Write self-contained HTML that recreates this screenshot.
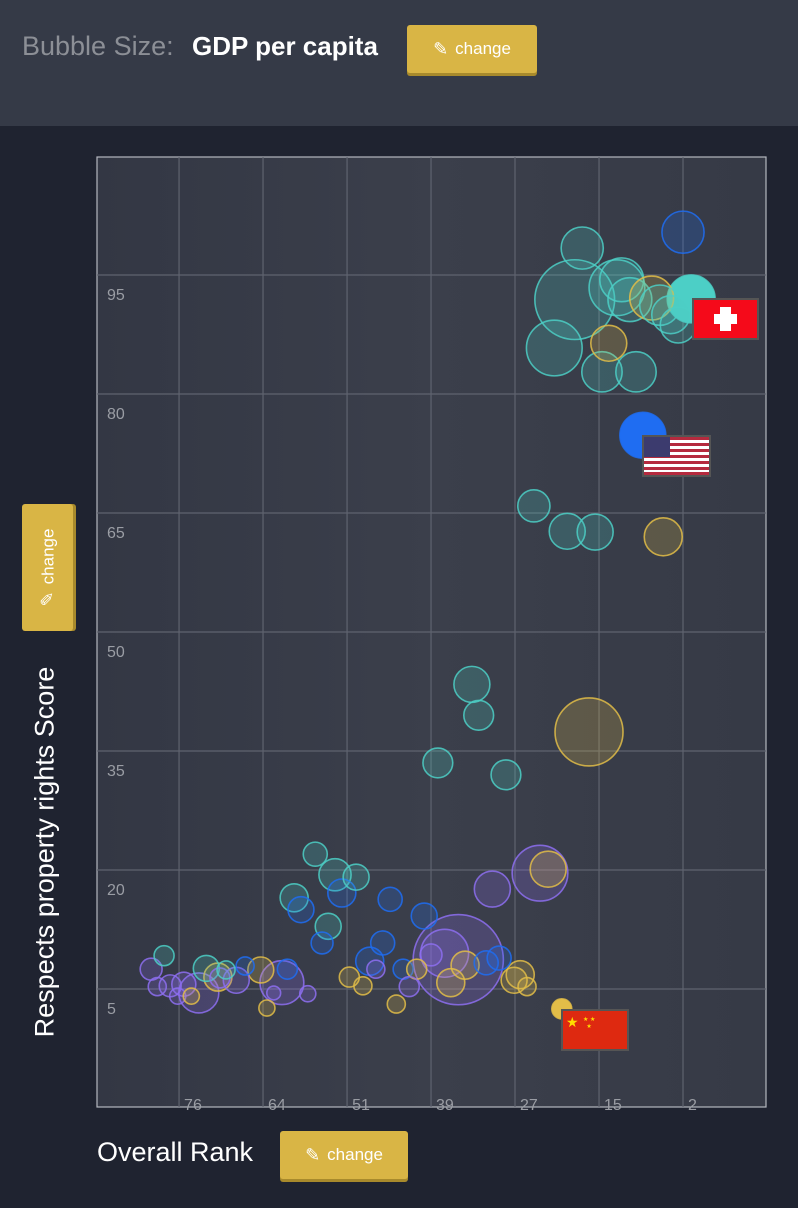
<!DOCTYPE html>
<html><head><meta charset="utf-8">
<style>
body{margin:0;width:798px;height:1208px;background:#1f2330;font-family:"Liberation Sans",sans-serif;position:relative;overflow:hidden}
.hdr{position:absolute;left:0;top:0;width:798px;height:126px;background:#353a47}
.btn{position:absolute;background:#d9b545;border-radius:3px;color:#fff;font-size:17px;box-shadow:0 3px 0 #a88a2c;display:flex;align-items:center;justify-content:center;gap:7px}
</style></head><body>
<div class="hdr">
<div style="position:absolute;left:22px;top:31px;font-size:27px;color:#8c8f96">Bubble Size:</div>
<div style="position:absolute;left:192px;top:31px;font-size:26px;color:#fff;font-weight:bold">GDP per capita</div>
<div class="btn" style="left:407px;top:25px;width:130px;height:48px"><span style="font-size:18px">✎</span>change</div>
</div>
<div class="btn" style="left:22px;top:504px;width:51px;height:127px;box-shadow:3px 0 0 #a88a2c"><div style="transform:rotate(-90deg);white-space:nowrap;display:flex;gap:7px;align-items:center"><span style="font-size:18px">✎</span>change</div></div>
<div style="position:absolute;left:45px;top:852px;transform:translate(-50%,-50%) rotate(-90deg);white-space:nowrap;color:#fff;font-size:27px">Respects property rights Score</div>
<div style="position:absolute;left:97px;top:1137px;color:#fff;font-size:27px">Overall Rank</div>
<div class="btn" style="left:280px;top:1131px;width:128px;height:48px"><span style="font-size:18px">✎</span>change</div>
<svg id="chart" width="798" height="1208" style="position:absolute;left:0;top:0">
<defs><linearGradient id="bg" x1="0" y1="0" x2="1" y2="0"><stop offset="0" stop-color="#333744"/><stop offset="0.5" stop-color="#3b3f4b"/><stop offset="1" stop-color="#363a46"/></linearGradient></defs>
<rect x="97" y="157" width="669" height="950" fill="url(#bg)" stroke="#b5b8bf" stroke-width="1.2"/>
<g id="grid"></g><g id="bubbles"></g><g id="flags"></g>
</svg>
<script>
const xTicks=[76,64,51,39,27,15,2];
const xTickPos=[76,63.67,51.33,39,26.67,14.33,2];
const yTicks=[95,80,65,50,35,20,5];
const rank=[2,16.8,17.9,11.7,11.0,9.8,6.6,5.4,3.8,2.7,0.8,20.9,12.9,13.9,8.9,7.9,23.9,19.0,14.9,4.9,33.0,32.0,15.8,38.0,28.0,23.0,21.8,30.0,56.0,53.1,50.0,52.1,59.1,58.1,45.0,40.0,54.1,55.0,35.0,37.0,39.0,46.1,48.0,47.1,34.0,30.9,29.0,36.1,25.9,26.8,24.9,43.1,41.1,42.2,51.0,49.0,44.1,64.0,60.9,60.1,62.1,57.1,63.1,66.3,69.1,72.0,70.3,67.6,70.0,78.2,80.1,79.2,77.3,75.3,73.1,76.2,74.2,19.8];
const score=[100.4,98.4,91.9,93.4,94.4,91.9,92.1,91.2,90.0,88.7,92.0,85.8,86.4,82.8,82.8,74.8,65.9,62.7,62.6,62.0,43.4,39.5,37.4,33.5,32.0,19.6,20.1,17.6,22.0,19.4,19.1,17.1,16.5,15.0,16.3,14.2,12.9,10.8,8.7,9.5,9.3,10.8,8.5,7.5,8.0,8.3,8.9,5.8,6.8,6.1,5.3,7.5,7.5,5.3,6.5,5.4,3.1,7.4,5.8,7.5,4.5,4.4,2.6,7.9,7.4,7.6,6.5,6.1,6.4,9.2,7.5,5.3,5.4,5.6,4.5,4.1,4.1,2.5];
const gdp=[24,24,86,42,26,26,26,22,19.5,17.5,31,42,17.5,22,22,28.5,14,17.5,17.5,19.5,17.5,12,62.5,12,12,42,17.5,17.5,7.8,14,9.1,10.6,10.6,9.1,7.8,9.1,9.1,6.5,110,31,6.5,7.8,10.6,4.4,10.6,7.8,7.8,10.6,10.6,9.1,4.4,5.4,5.4,5.4,5.4,4.4,4.4,9.1,26,5.4,2.6,3.5,3.5,4.4,4.4,9.1,10.6,9.1,5.4,5.4,6.5,4.4,6.5,7.8,21.6,3.5,3.5,5.4];
const region=["b","t","t","t","t","t","g","t","t","t","t","t","g","t","t","b","t","t","t","g","t","t","g","t","t","p","g","p","t","t","t","b","t","b","b","b","t","b","p","p","p","b","b","p","g","b","b","g","g","g","g","b","g","p","g","g","g","g","p","b","p","p","g","b","t","t","g","p","p","t","p","p","p","p","p","p","g","g"];
const solid=[0,0,0,0,0,0,0,0,0,0,1,0,0,0,0,1,0,0,0,0,0,0,0,0,0,0,0,0,0,0,0,0,0,0,0,0,0,0,0,0,0,0,0,0,0,0,0,0,0,0,0,0,0,0,0,0,0,0,0,0,0,0,0,0,0,0,0,0,0,0,0,0,0,0,0,0,0,1];
const colors={t:"#4ccfc6",b:"#1f6df2",p:"#8d6ff0",g:"#e2bd48"};
const xS=r=>683-(r-2)*6.81;
const yS=v=>989-(v-5)*7.933;
const rS=g=>4.3*Math.sqrt(g);
const NS="http://www.w3.org/2000/svg";
const grid=document.getElementById('grid');
function mk(tag,attrs,parent){const e=document.createElementNS(NS,tag);for(const k in attrs)e.setAttribute(k,attrs[k]);parent.appendChild(e);return e;}
xTickPos.forEach((t,i)=>{const x=xS(t);
const l=mk('line',{x1:x,x2:x,y1:157,y2:1107,stroke:'#5f636f','stroke-width':1.2},grid);


const tx=mk('text',{x:x+5,y:1110,fill:'#9a9da4','font-size':16,'font-family':'Liberation Sans'},grid);


tx.textContent=xTicks[i];});
yTicks.forEach(t=>{const y=yS(t);
const l=mk('line',{x1:97,x2:766,y1:y,y2:y,stroke:'#5f636f','stroke-width':1.2},grid);


const tx=mk('text',{x:107,y:y+25,fill:'#9a9da4','font-size':16,'font-family':'Liberation Sans'},grid);


tx.textContent=t;});
const bg=document.getElementById('bubbles');
const order=rank.map((_,i)=>i).sort((a,b)=>gdp[b]-gdp[a]);
order.forEach(i=>{const c=colors[region[i]];
const e=mk('circle',{cx:xS(rank[i]),cy:yS(score[i]),r:rS(gdp[i]),fill:c,'fill-opacity':solid[i]?1:0.22,stroke:c,'stroke-opacity':0.85,'stroke-width':1.6},bg);

});
</script>
<svg width="798" height="1208" style="position:absolute;left:0;top:0">
<g><rect x="692" y="298" width="67" height="42" fill="#555" /><rect x="694" y="300" width="63" height="38" fill="#f50a1a"/><rect x="714" y="314" width="23" height="10" fill="#fff"/><rect x="720" y="307" width="11" height="24" fill="#fff"/></g>
<g><rect x="642" y="435" width="69" height="42" fill="#555"/><rect x="644" y="437" width="65" height="38" fill="#fff"/>
<g fill="#b52a3e"><rect x="644" y="437" width="65" height="3"/><rect x="644" y="443" width="65" height="3"/><rect x="644" y="449" width="65" height="3"/><rect x="644" y="455" width="65" height="3"/><rect x="644" y="461" width="65" height="3"/><rect x="644" y="467" width="65" height="3"/><rect x="644" y="472" width="65" height="3"/></g>
<rect x="644" y="437" width="26" height="20" fill="#3c3b6e"/></g>
<g><rect x="561" y="1009" width="68" height="42" fill="#555"/><rect x="563" y="1011" width="64" height="38" fill="#de2910"/><text x="566" y="1027" fill="#ffde00" font-size="14">★</text><text x="583" y="1021" fill="#ffde00" font-size="6">★ ★</text><text x="583" y="1028" fill="#ffde00" font-size="6">&#160;&#160;★</text></g>
</svg>
</body></html>
